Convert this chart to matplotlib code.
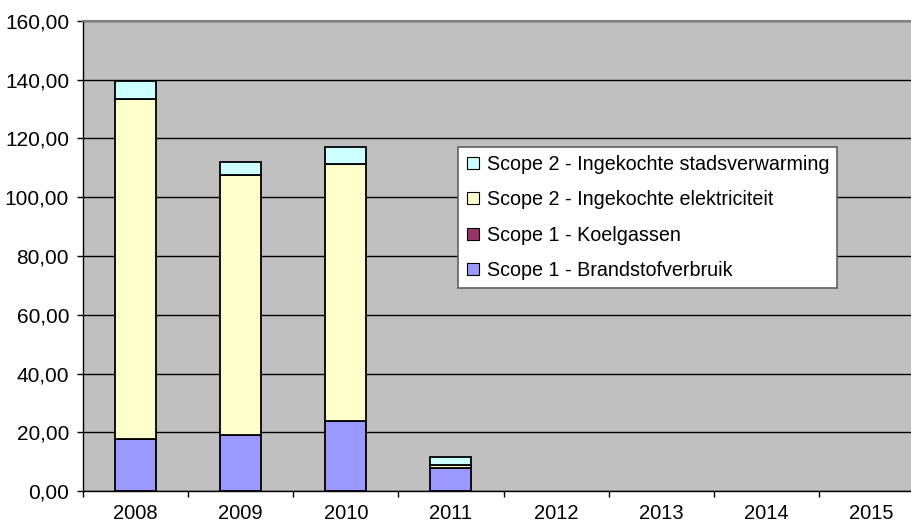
import matplotlib
matplotlib.use("Agg")
import matplotlib.pyplot as plt
import numpy as np
from matplotlib.lines import Line2D
from matplotlib.ticker import FuncFormatter

plt.rcParams["font.family"] = ["Liberation Sans", "DejaVu Sans"]

years = ["2008", "2009", "2010", "2011", "2012", "2013", "2014", "2015"]
brandstof = [17.8, 19.0, 24.0, 7.7, 0, 0, 0, 0]
koelgassen = [0, 0, 0, 0, 0, 0, 0, 0]
elektriciteit = [115.6, 88.7, 87.3, 1.2, 0, 0, 0, 0]
stadsverwarming = [6.3, 4.3, 5.7, 2.6, 0, 0, 0, 0]

labels = [
    "Scope 1 - Brandstofverbruik",
    "Scope 1 - Koelgassen",
    "Scope 2 - Ingekochte elektriciteit",
    "Scope 2 - Ingekochte stadsverwarming",
]
colors = ["#9999FF", "#993366", "#FFFFCC", "#CCFFFF"]

fig = plt.figure(figsize=(9.11, 5.29), dpi=100)
fig.patch.set_facecolor("white")
# plot area runs past the right edge of the image, like the original
ax = fig.add_axes([83 / 911, 38 / 529, 841 / 911, 470 / 529])
ax.set_facecolor("#C0C0C0")

x = np.arange(len(years))
bottom = np.zeros(len(years))
series = [brandstof, koelgassen, elektriciteit, stadsverwarming]
for vals, col in zip(series, colors):
    vals = np.array(vals)
    mask = vals > 0
    ax.bar(x[mask], vals[mask], 0.39, bottom=bottom[mask], color=col,
           edgecolor="black", linewidth=1.3, zorder=3)
    bottom += vals

ax.set_ylim(0, 160)
ax.set_yticks(np.arange(0, 161, 20))
ax.yaxis.set_major_formatter(FuncFormatter(lambda v, p: "{:.2f}".format(v).replace(".", ",")))
ax.yaxis.grid(True, color="black", linewidth=1, zorder=1)
ax.set_axisbelow(True)

ax.set_xlim(-0.5, len(years) - 0.5)
ax.set_xticks(x)
ax.set_xticklabels(years)
ax.set_xticks(np.arange(len(years) + 1) - 0.5, minor=True)
ax.tick_params(axis="x", which="major", length=0, pad=9.5, labelsize=14.5)
ax.tick_params(axis="x", which="minor", length=4, width=1, color="black", direction="out")
ax.tick_params(axis="y", length=4, width=1, pad=6, labelsize=15)

for s in ["top", "right"]:
    ax.spines[s].set_color("#808080")
    ax.spines[s].set_linewidth(1.5)
for s in ["left", "bottom"]:
    ax.spines[s].set_color("black")
    ax.spines[s].set_linewidth(1)

handles = []
for lab, col in zip(labels, colors):
    handles.append(Line2D([], [], marker="s", linestyle="none", markersize=8,
                          markerfacecolor=col, markeredgecolor="black",
                          markeredgewidth=0.8, label=lab))
handles = handles[::-1]
leg = ax.legend(handles=handles, loc="upper left",
                bbox_to_anchor=(458 / 911, 1 - 147 / 529),
                bbox_transform=fig.transFigure, borderaxespad=0,
                fontsize=14.2, frameon=True, fancybox=False, shadow=False,
                handlelength=0.7, handletextpad=0.35, labelspacing=0.83,
                borderpad=0.4)
leg.get_frame().set_edgecolor("#606060")
leg.get_frame().set_linewidth(1.2)
leg.get_frame().set_alpha(1)

fig.savefig("out.png", dpi=100)
